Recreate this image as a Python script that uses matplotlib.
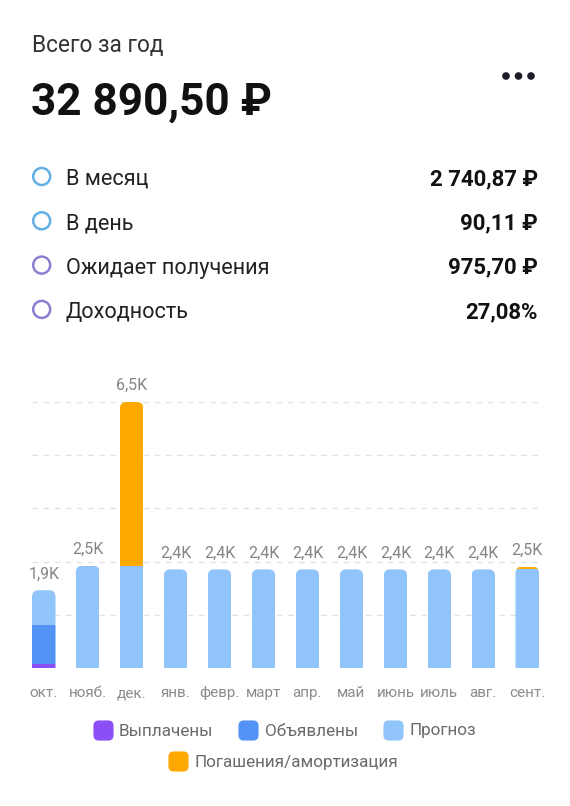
import numpy as np
import matplotlib
matplotlib.use("Agg")
import matplotlib.pyplot as plt
from matplotlib.patches import FancyBboxPatch, Circle, BoxStyle
from matplotlib.lines import Line2D

plt.rcParams['font.family'] = ['Roboto', 'DejaVu Sans']

# data (thousands of rubles)
months = ['окт.', 'нояб.', 'дек.', 'янв.', 'февр.', 'март', 'апр.', 'май',
          'июнь', 'июль', 'авг.', 'сент.']
paid = [0.1, 0, 0, 0, 0, 0, 0, 0, 0, 0, 0, 0]
declared = [0.95, 0, 0, 0, 0, 0, 0, 0, 0, 0, 0, 0]
forecast = [0.85, 2.5, 2.5, 2.41, 2.41, 2.41, 2.41, 2.41, 2.41, 2.41, 2.41, 2.41]
redemption = [0, 0, 4.0, 0, 0, 0, 0, 0, 0, 0, 0, 0.07]

series_names = ['Выплачены', 'Объявлены', 'Прогноз', 'Погашения/амортизация']
colors = ['#8a4ff6', '#5393f5', '#90c4fa', '#ffa800']

total_year = '32 890,50 ₽'
stat_labels = ['В месяц', 'В день', 'Ожидает получения', 'Доходность']
stat_values = ['2 740,87 ₽', '90,11 ₽', '975,70 ₽', '27,08%']
stat_colors = ['#62b0e4', '#62b0e4', '#8a80d2', '#8a80d2']

W, H = 570, 806
fig = plt.figure(figsize=(W / 100, H / 100), dpi=100)


def px(x, y):
    return x / W, 1 - y / H


# header
fig.text(*px(32, 52), 'Всего за год', fontsize=16.3, color='#333333', va='baseline')
fig.text(*px(31, 115), total_year, fontsize=31.8, fontweight='bold', color='#111111',
         va='baseline')
for dx in [506, 518.5, 531]:
    fig.add_artist(Circle((dx / 100, (H - 76) / 100), 0.031, transform=fig.dpi_scale_trans,
                          color='#1c1c28'))

# stats rows
for i, (lab, val, c) in enumerate(zip(stat_labels, stat_values, stat_colors)):
    yc = 176.5 + 44.3 * i
    fig.add_artist(Circle((41.7 / 100, (H - yc) / 100), 0.085, transform=fig.dpi_scale_trans,
                          facecolor='none', edgecolor=c, lw=1.8))
    fig.text(*px(66, yc + 8.5), lab, fontsize=15.6, color='#222222', va='baseline')
    fig.text(*px(538, yc + 8.5), val, fontsize=16, fontweight='bold', color='#111111',
             va='baseline', ha='right')

# chart
ax = fig.add_axes([32 / W, (H - 668) / H, 507 / W, 266 / H])
x = np.arange(len(months))
w = 0.535
stack = [paid, declared, forecast, redemption]
totals = np.sum(stack, axis=0)

bottom = np.zeros(len(months))
bars = []
for vals, c in zip(stack, colors):
    b = ax.bar(x, vals, w, bottom=bottom, color=c, linewidth=0, zorder=2)
    bars.append(b)
    bottom = bottom + np.array(vals)

ax.set_xlim(-w / 2, len(months) - 1 + w / 2)
ax.set_ylim(0, 6.5)

# round the top of each column
r = 0.15
for i in range(len(months)):
    clip = FancyBboxPatch((x[i] - w / 2, -1), w, totals[i] + 1,
                          boxstyle=BoxStyle.Round(pad=0, rounding_size=r),
                          mutation_aspect=1.075, transform=ax.transData)
    for b in bars:
        b[i].set_clip_path(clip)

for i, t in enumerate(totals):
    ax.annotate(f'{t:.1f}K'.replace('.', ','), (x[i], t), xytext=(0, 8.5),
                textcoords='offset points', ha='center', va='baseline',
                fontsize=11.5, color='#858585')

ax.set_yticks(np.arange(6) * 1.3)
ax.yaxis.grid(True, linestyle=(0, (4, 4)), color='#e2e2e2', lw=1)
ax.set_axisbelow(True)
ax.set_xticks(x, months)
ax.tick_params(axis='y', length=0, labelleft=False)
ax.tick_params(axis='x', length=0, pad=13, labelsize=11, labelcolor='#8c8c8c')
for s in ax.spines.values():
    s.set_visible(False)

# legend
sq = BoxStyle.Round(pad=0, rounding_size=0.25)(-0.5, -0.5, 1, 1, 1)
handles = [Line2D([], [], marker=sq, color=c, markersize=13.5, linestyle='none')
           for c in colors]
leg_kw = dict(frameon=False, fontsize=12.3, labelcolor='#6a6a6a', handlelength=1.0,
              handletextpad=0.45, columnspacing=1.55, borderaxespad=0, borderpad=0)
fig.legend(handles[:3], series_names[:3], loc='center', ncol=3,
           bbox_to_anchor=px(285, 731), **leg_kw)
fig.legend(handles[3:], series_names[3:], loc='center', bbox_to_anchor=px(284, 762),
           **leg_kw)

fig.savefig('out.png', dpi=100, facecolor='white')
